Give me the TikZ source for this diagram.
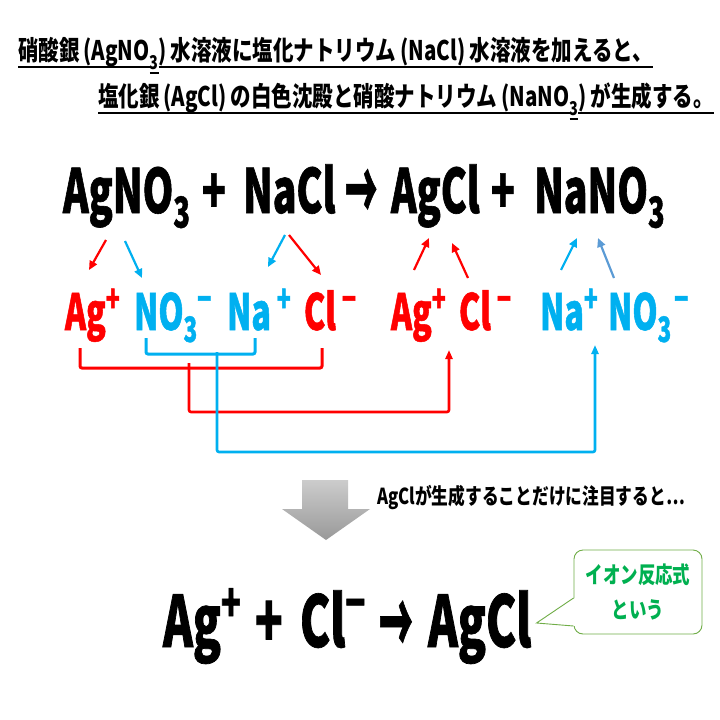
\documentclass[tikz,border=0pt]{standalone}
\usepackage{fontspec}
\usepackage{graphicx}
\usetikzlibrary{arrows.meta,calc}
\newfontfamily\jp{Noto Sans CJK JP}[FakeStretch=0.76]
\newfontfamily\eqf{Noto Sans CJK JP}[FakeStretch=0.64, FakeBold=1]
\definecolor{rd}{HTML}{FF0000}
\definecolor{bl}{HTML}{00B0F0}
\definecolor{st}{HTML}{5B9BD5}
\definecolor{gr}{HTML}{00B050}
\definecolor{grb}{HTML}{70AD47}
\newcommand\supp[1]{\raisebox{.36em}{\scalebox{.72}{#1}}}
\newcommand\subb[1]{\raisebox{-.24em}{\scalebox{.7}{#1}}}
\newcommand\ps{\hspace{4pt}}
\newcommand\yields{\scalebox{1.15}[1.9]{→}}
\begin{document}
\begin{tikzpicture}[x=1pt,y=-1pt,
  title/.style={font=\jp\bfseries\fontsize{27}{30}\selectfont, inner sep=0pt, outer sep=0pt, anchor=base west},
  tsub/.style={title, font=\jp\bfseries\fontsize{19}{20}\selectfont},
  uline/.style={line width=2pt},
  eq/.style={font=\eqf\bfseries\fontsize{61}{64}\selectfont, inner sep=0pt, outer sep=0pt, anchor=base west},
  eqarr/.style={eq, font=\eqf\bfseries\fontsize{44}{48}\selectfont},
  ion/.style={font=\eqf\bfseries\fontsize{50}{54}\selectfont, inner sep=0pt, outer sep=0pt, anchor=base west},
  leq/.style={font=\eqf\bfseries\fontsize{71}{74}\selectfont, inner sep=0pt, outer sep=0pt, anchor=base west},
  leqarr/.style={leq, font=\eqf\bfseries\fontsize{46}{50}\selectfont},
  arr/.style={line width=2.2pt, -{Triangle[length=9pt,width=8pt]}},
  brk/.style={line width=3pt, rounded corners=2pt},
  conn/.style={line width=2.6pt, rounded corners=2pt, -{Triangle[length=9pt,width=7pt]}},
]
\fill[white] (0,0) rectangle (720,720);
\useasboundingbox (0,0) rectangle (720,720);

% title line 1
\node[title] (t1a) at (18,60) {硝酸銀\ps{}(AgNO};
\node[tsub] (t1b) at ($(t1a.base east)+(0,9)$) {3};
\node[title] (t1c) at ($(t1b.base east)+(0,-9)$) {)\ps{}水溶液に塩化ナトリウム\ps{}(NaCl)\ps{}水溶液を加えると、};
\draw[uline] ($(t1a.base west)+(0,7)$) -- ($(t1a.base east)+(0,7)$);
\draw[uline] ($(t1b.base west)+(0,4)$) -- ($(t1b.base east)+(0,4)$);
\draw[uline] ($(t1c.base west)+(0,7)$) -- ($(t1c.base east)+(0,7)$);
% title line 2
\node[title] (t2a) at (98,106) {塩化銀\ps{}(AgCl)\ps{}の白色沈殿と硝酸ナトリウム\ps{}(NaNO};
\node[tsub] (t2b) at ($(t2a.base east)+(0,9)$) {3};
\node[title] (t2c) at ($(t2b.base east)+(0,-9)$) {)\ps{}が生成する。};
\draw[uline] ($(t2a.base west)+(0,7)$) -- ($(t2a.base east)+(0,7)$);
\draw[uline] ($(t2b.base west)+(0,4)$) -- ($(t2b.base east)+(0,4)$);
\draw[uline] ($(t2c.base west)+(0,7)$) -- ($(t2c.base east)+(0,7)$);

% main equation
\node[eq] (agno3) at (63,213) {AgNO\subb{3}};
\node[eq] (p1) at (202,213) {+};
\node[eq] (nacl) at (243,213) {NaCl};
\node[eqarr] (ar1) at (345,221) {\yields};
\node[eq] (agcl) at (391,213) {AgCl};
\node[eq] (p2) at (491,213) {+};
\node[eq] (nano3) at (534,213) {NaNO\subb{3}};

% ions
\node[ion, rd] (ag1) at (65,330) {Ag\supp{+}};
\node[ion, bl] (no1) at (134,330) {NO\subb{3}\supp{−}};
\node[ion, bl] (na1) at (227,330) {Na\hspace{6pt}\supp{+}};
\node[ion, rd] (cl1) at (304,330) {Cl\hspace{6pt}\supp{−}};
\node[ion, rd] (ag2) at (391,330) {Ag\supp{+}};
\node[ion, rd] (cl2) at (459,330) {Cl\hspace{6pt}\supp{−}};
\node[ion, bl] (na2) at (540,330) {Na\supp{+}};
\node[ion, bl] (no2) at (608,330) {NO\subb{3}\hspace{3pt}\supp{−}};

% dissociation arrows
\draw[arr, rd] ($(agno3.base west)+(43,27)$) -- ($(ag1.base west)+(24,-60)$);
\draw[arr, bl] ($(agno3.base west)+(62,28)$) -- ($(no1.base west)+(8,-52)$);
\draw[arr, bl] ($(nacl.base west)+(42,22)$) -- ($(na1.base west)+(41,-63)$);
\draw[arr, rd] ($(nacl.base west)+(46,22)$) -- ($(cl1.base west)+(17,-55)$);
\draw[arr, rd] ($(ag2.base west)+(23,-60)$) -- ($(agcl.base west)+(38,25)$);
\draw[arr, rd] ($(cl2.base west)+(9,-52)$) -- ($(agcl.base west)+(61,30)$);
\draw[arr, bl] ($(na2.base west)+(21,-60)$) -- ($(nano3.base west)+(43,25)$);
\draw[arr, st] ($(no2.base west)+(6,-52)$) -- ($(nano3.base west)+(64,25)$);

% brackets
\draw[brk, rd] ($(ag1.base west)+(15,18)$) |- ($(cl1.base west)+(18,38)$) -- ($(cl1.base west)+(18,18)$);
\draw[brk, bl] ($(no1.base west)+(12,8)$) |- ($(na1.base west)+(28,24)$) -- ($(na1.base west)+(28,8)$);
% connectors
\draw[conn, rd] ($(ag1.base west)+(124,33)$) |- ($(ag2.base west)+(58,82)$) -- ($(ag2.base west)+(58,20)$);
\draw[conn, bl] ($(no1.base west)+(83,22)$) |- ($(no2.base west)+(-13,122)$) -- ($(no2.base west)+(-13,15)$);

% gray block arrow
\shade[top color=gray!40, bottom color=gray!80] (302,480) -- (348,480) -- (348,509) -- (370,509) -- (326,540) -- (282,509) -- (302,509) -- cycle;
\node[font=\jp\bfseries\fontsize{22}{24}\selectfont, anchor=west, inner sep=0pt] (note) at (377,497) {AgClが生成することだけに注目すると…};

% net ionic equation
\node[leq] (lag) at (163,647) {Ag\supp{+}};
\node[leq] (lplus) at (255,647) {+};
\node[leq] (lcl) at (300,647) {Cl\supp{−}};
\node[leqarr] (larr) at (379,655) {\yields};
\node[leq] (lagcl) at (428,647) {AgCl};

% callout
\node[draw=grb, line width=0.9pt, rounded corners=9pt, fill=white, minimum width=128pt, minimum height=84pt, inner sep=0pt,
      align=center, text=gr, font=\jp\bfseries\fontsize{23}{35}\selectfont] (co) at (638,592) {イオン反応式\\という};
\fill[white] ($(co.west)+(1.5,6)$) -- ($(co.west)+(-37,31)$) -- ($(co.west)+(1.5,34)$) -- cycle;
\draw[grb, line width=0.9pt] ($(co.west)+(0,6)$) -- ($(co.west)+(-37,31)$) -- ($(co.west)+(0,34)$);
\end{tikzpicture}
\end{document}
